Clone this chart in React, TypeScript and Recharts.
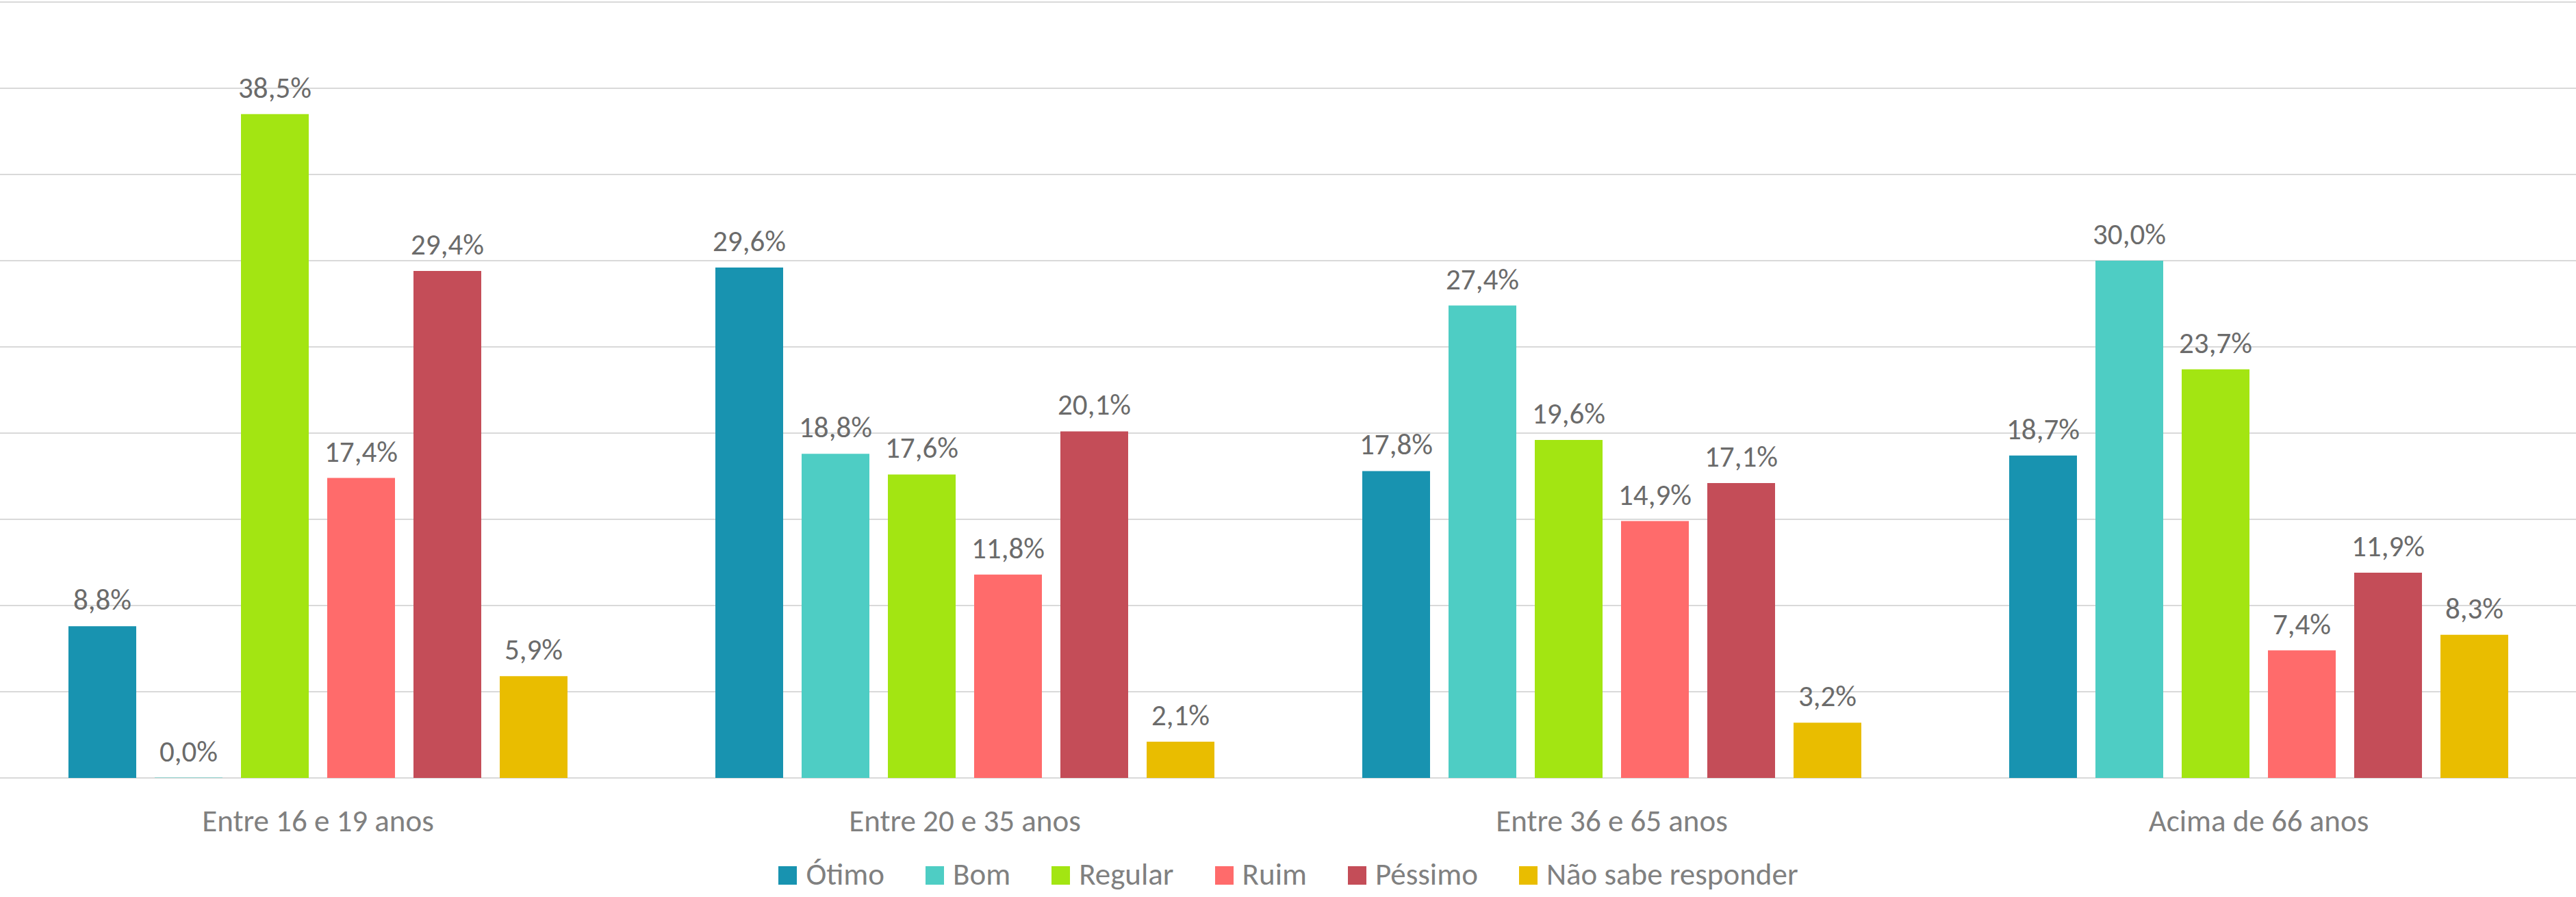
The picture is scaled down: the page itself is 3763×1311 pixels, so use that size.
import { Bar, BarChart, CartesianGrid, LabelList, Legend, XAxis, YAxis } from "recharts";

const ageGroups = ["Entre 16 e 19 anos", "Entre 20 e 35 anos", "Entre 36 e 65 anos", "Acima de 66 anos"];

const otimo = [8.8, 29.6, 17.8, 18.7];
const bom = [0.0, 18.8, 27.4, 30.0];
const regular = [38.5, 17.6, 19.6, 23.7];
const ruim = [17.4, 11.8, 14.9, 7.4];
const pessimo = [29.4, 20.1, 17.1, 11.9];
const naoSabe = [5.9, 2.1, 3.2, 8.3];

const yTicks = [0, 5, 10, 15, 20, 25, 30, 35, 40, 45];

const series = [
  { key: "otimo", name: "Ótimo", values: otimo, color: "#1893B0" },
  { key: "bom", name: "Bom", values: bom, color: "#4ECDC4" },
  { key: "regular", name: "Regular", values: regular, color: "#A3E512" },
  { key: "ruim", name: "Ruim", values: ruim, color: "#FF6B6B" },
  { key: "pessimo", name: "Péssimo", values: pessimo, color: "#C44D58" },
  { key: "naoSabe", name: "Não sabe responder", values: naoSabe, color: "#E9BD00" },
];

const data = ageGroups.map((group, i) => {
  const row: Record<string, string | number> = { group };
  series.forEach((s) => {
    row[s.key] = s.values[i];
  });
  return row;
});

const FONT = "Carlito, Calibri, Lato, sans-serif";

// brazilian format: 38,5%
const fmt = (v: number) => `${Number(v).toFixed(1).replace(".", ",")}%`;

// draws the value above the bar, also for 0,0% bars
function TopLabel(props: any) {
  const { x, y, width, height, value } = props;
  if (value == null || x == null || y == null) return null;
  // for the tiny minPointSize bar use its base so the label sits on the axis
  const top = Number(value) === 0 ? Number(y) + Number(height) : Number(y);
  return (
    <text
      x={Number(x) + Number(width) / 2}
      y={top - 24}
      textAnchor="middle"
      fill="#6B6B6B"
      fontSize={43}
      fontFamily={FONT}
    >
      {fmt(value)}
    </text>
  );
}

function LegendRow() {
  return (
    <div
      style={{
        height: 59,
        boxSizing: "border-box",
        paddingTop: 13,
        textAlign: "center",
        fontFamily: FONT,
        fontSize: 45,
        color: "#808080",
        whiteSpace: "nowrap",
      }}
    >
      {series.map((s, i) => (
        <span key={s.key} style={{ marginLeft: i === 0 ? 0 : 60 }}>
          <span
            style={{
              display: "inline-block",
              width: 27,
              height: 27,
              background: s.color,
              marginRight: 13,
            }}
          />
          {s.name}
        </span>
      ))}
    </div>
  );
}

export default function App() {
  return (
    <div
      style={{
        position: "absolute",
        left: 0,
        top: 0,
        width: 3763,
        height: 1311,
        overflow: "hidden",
        background: "#fff",
      }}
    >
      <div style={{ marginLeft: -8 }}>
        <BarChart
          width={3780}
          height={1311}
          data={data}
          margin={{ top: 3, right: 0, left: 0, bottom: 15 }}
          barSize={99}
          barGap={27}
        >
          <CartesianGrid vertical={false} stroke="#D9D9D9" strokeWidth={2} />
          <XAxis
            dataKey="group"
            axisLine={false}
            tickLine={false}
            tickSize={0}
            tickMargin={46}
            height={100}
            interval={0}
            tick={{ fill: "#808080", fontSize: 45, fontFamily: FONT }}
          />
          <YAxis hide domain={[0, 45]} ticks={yTicks} />
          <Legend verticalAlign="bottom" content={() => <LegendRow />} />
          {series.map((s) => (
            <Bar
              key={s.key}
              dataKey={s.key}
              name={s.name}
              fill={s.color}
              minPointSize={0.5}
              isAnimationActive={false}
            >
              <LabelList dataKey={s.key} content={<TopLabel />} />
            </Bar>
          ))}
        </BarChart>
      </div>
    </div>
  );
}
